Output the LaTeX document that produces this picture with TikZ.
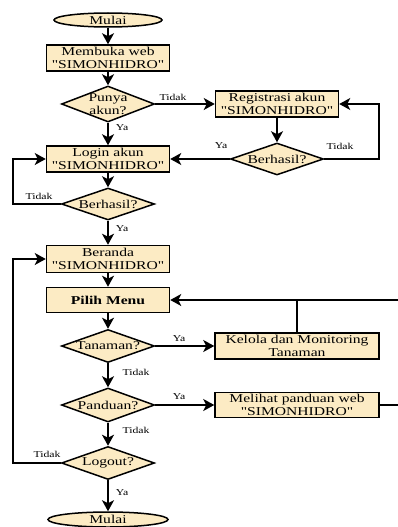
\documentclass[tikz,border=0pt]{standalone}
\usepackage{fontspec}
\setmainfont{Liberation Serif}[FakeStretch=1.3, Ligatures=TeXOff]
\usetikzlibrary{arrows.meta,shapes.geometric}
\definecolor{boxfill}{HTML}{FCEBC4}
\newcommand{\zbx}[1]{\makebox[0pt]{#1}}
\begin{document}
\begin{tikzpicture}[x=1pt,y=-1pt,
  base/.style={draw=black, fill=boxfill, line width=1.5pt, inner sep=0pt, align=center,
    font=\fontsize{12}{12.5}\selectfont},
  proc/.style={base, rectangle, minimum width=123pt, minimum height=26pt},
  wideproc/.style={base, rectangle, minimum width=164pt, minimum height=26pt},
  dec/.style={base, diamond, aspect=2.8, minimum width=93pt, minimum height=33pt},
  term/.style={base, ellipse, minimum width=108pt, minimum height=14pt},
  conn/.style={line width=1.5pt, -{Stealth[length=11pt,width=12pt,inset=3pt]}},
  plain/.style={line width=1.5pt},
  lbl/.style={font=\fontsize{9}{10}\selectfont, inner sep=0pt}]
\useasboundingbox (0,0) rectangle (398,527);
\clip (0,0) rectangle (398,527);
% nodes
\node[term] (start) at (108,20) {Mulai};
\node[proc] (open) at (108,58) {Membuka web\\"SIMONHIDRO"};
\node[dec, minimum height=36pt] (d1) at (108,104) {\zbx{Punya}\\\zbx{akun?}};
\node[proc] (reg) at (277,104) {Registrasi akun\\"SIMONHIDRO"};
\node[dec, minimum height=32pt] (d2) at (277,159) {\zbx{Berhasil?}};
\node[proc] (login) at (108,159) {Login akun\\"SIMONHIDRO"};
\node[dec, minimum height=32pt] (d3) at (108,204) {\zbx{Berhasil?}};
\node[proc, minimum height=27pt] (beranda) at (108,259) {Beranda\\"SIMONHIDRO"};
\node[proc, minimum height=25pt] (menu) at (108,300) {\bfseries Pilih Menu};
\node[dec] (d4) at (108,346) {\zbx{Tanaman?}};
\node[wideproc] (kelola) at (297,346) {Kelola dan Monitoring\\Tanaman};
\node[dec, minimum height=34pt] (d5) at (108,405) {\zbx{Panduan?}};
\node[wideproc, minimum height=25pt] (melihat) at (297,405) {Melihat panduan web\\"SIMONHIDRO"};
\node[dec] (d6) at (108,463) {\zbx{Logout?}};
\node[term, minimum width=120pt, minimum height=15pt] (end) at (108,519.5) {Mulai};
% helper coordinates
\coordinate (ll) at (13,0);
\coordinate (rr) at (379,0);
\coordinate (rx) at (404,0);
% connectors
\draw[conn] (start) -- (open);
\draw[conn] (open) -- (d1);
\draw[conn] (d1) -- (login);
\draw[conn] (d1.east) -- (reg.west);
\draw[conn] (reg) -- (d2);
\draw[conn] (d2.west) -- (login.east);
\draw[conn] (d2.east) -- (d2.east -| rr) |- (reg.east);
\draw[conn] (login) -- (d3);
\draw[conn] (d3.west) -- (d3.west -| ll) |- (login.west);
\draw[conn] (d3) -- (beranda);
\draw[conn] (beranda) -- (menu);
\draw[conn] (menu) -- (d4);
\draw[conn] (d4.east) -- (kelola.west);
\draw[conn] (d4) -- (d5);
\draw[conn] (d5.east) -- (melihat.west);
\draw[conn] (d5) -- (d6);
\draw[conn] (d6) -- (end);
\draw[conn] (d6.west) -- (d6.west -| ll) |- (beranda.west);
\draw[plain] (kelola.north) -- (kelola.north |- menu);
\draw[conn] (melihat.east) -- (melihat.east -| rx) |- (menu.east);
% labels
\node[lbl] (l1) at (173,97) {Tidak};
\node[lbl] (l2) at (122,128) {Ya};
\node[lbl] (l3) at (221,146) {Ya};
\node[lbl] (l4) at (340,146) {Tidak};
\node[lbl] (l5) at (39,196) {Tidak};
\node[lbl] (l6) at (122,229) {Ya};
\node[lbl] (l7) at (179,339) {Ya};
\node[lbl] (l8) at (136,372) {Tidak};
\node[lbl] (l9) at (179,397) {Ya};
\node[lbl] (l10) at (136,430) {Tidak};
\node[lbl] (l11) at (47,454) {Tidak};
\node[lbl] (l12) at (122,493) {Ya};
\end{tikzpicture}
\end{document}
